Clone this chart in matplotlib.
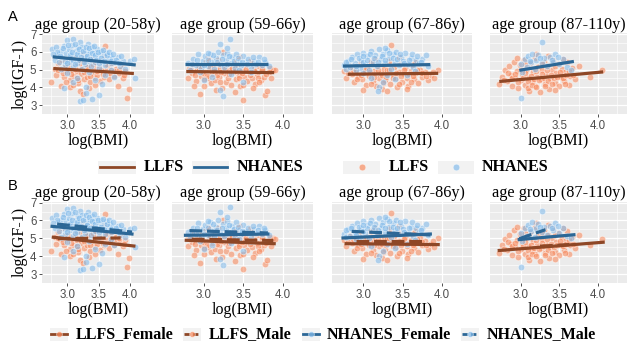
import matplotlib
matplotlib.use("Agg")
import matplotlib.pyplot as plt
from matplotlib.patches import Rectangle
from matplotlib.lines import Line2D

# ---------------- data ----------------
groups = ["age group (20-58y)", "age group (59-66y)", "age group (67-86y)", "age group (87-110y)"]
x_ticks = [3.0, 3.5, 4.0]
y_ticks = [3, 4, 5, 6, 7]

p1_nhanes = [(2.76,6.15),(2.80,5.55),(2.82,6.30),(2.85,5.90),(2.87,5.40),(2.90,6.05),(2.92,5.70),(2.95,6.35),(2.96,5.25),(2.98,5.95),(3.00,6.65),(3.01,5.60),(3.03,6.15),(3.05,5.45),(3.06,5.85),(3.08,6.40),(3.10,5.15),(3.10,6.70),(3.12,5.75),(3.14,6.05),(3.15,5.35),(3.17,6.25),(3.18,5.55),(3.20,6.55),(3.21,5.95),(3.23,5.05),(3.24,6.30),(3.26,5.65),(3.28,6.10),(3.29,5.30),(3.31,5.85),(3.33,6.45),(3.34,5.50),(3.36,6.00),(3.38,5.20),(3.40,6.25),(3.41,5.70),(3.43,5.95),(3.45,5.40),(3.47,6.15),(3.48,5.60),(3.50,5.10),(3.52,5.85),(3.54,6.05),(3.55,5.45),(3.58,5.75),(3.60,5.25),(3.62,5.95),(3.65,5.55),(3.68,5.80),(3.70,5.35),(3.72,5.65),(3.76,5.45),(3.80,5.70),(3.84,5.20),(3.88,5.50),(3.92,5.05),(4.00,5.50),(4.06,5.60),(4.08,4.50),(3.20,3.25),(3.25,3.30),(3.40,3.35),(3.50,3.55),(3.30,3.70),(2.95,3.95),(3.30,4.00),(3.10,4.30),(3.45,4.40),(3.60,4.70),(3.00,4.80),(3.15,4.55),(2.90,5.05),(3.35,4.85),(3.70,4.95),(3.55,4.20),(3.75,4.60),
             (2.84,6.00),(2.88,5.75),(2.93,6.20),(2.97,5.50),(3.02,6.40),(3.04,5.80),(3.07,6.00),(3.09,5.55),(3.13,6.45),(3.16,5.90),(3.19,6.15),(3.22,5.70),(3.25,6.05),(3.27,5.45),(3.30,6.30),(3.32,5.75),(3.35,6.20),(3.37,5.60),(3.39,5.95),(3.42,6.35),(3.44,5.80),(3.46,5.55),(3.49,6.00),(3.51,5.35),(3.53,5.65),(3.57,6.10),(3.59,5.50),(3.63,5.80),(3.66,6.00),(3.69,5.50),(3.73,5.90),(3.78,5.55),(3.82,5.35),(3.86,5.75),(2.78,5.85),(3.00,5.35),(3.12,5.30)]
p1_llfs = [(2.75,4.30),(2.80,5.05),(2.83,4.70),(2.86,5.35),(2.88,4.95),(2.90,4.10),(2.92,5.55),(2.95,4.60),(2.97,5.15),(3.00,4.85),(3.02,5.45),(3.04,4.00),(3.05,4.40),(3.07,5.00),(3.09,5.70),(3.11,4.65),(3.13,5.25),(3.15,4.90),(3.17,4.25),(3.19,5.55),(3.20,3.80),(3.22,4.75),(3.24,5.10),(3.25,3.60),(3.26,4.45),(3.28,5.35),(3.30,4.95),(3.32,4.60),(3.34,5.20),(3.36,4.30),(3.38,5.65),(3.40,4.80),(3.42,5.05),(3.44,4.50),(3.46,5.40),(3.48,4.70),(3.50,5.15),(3.52,4.35),(3.54,4.90),(3.56,5.50),(3.58,4.60),(3.60,6.35),(3.61,5.00),(3.63,4.75),(3.65,5.25),(3.67,4.45),(3.70,4.95),(3.72,5.35),(3.74,4.65),(3.77,5.05),(3.80,4.10),(3.82,4.80),(3.85,5.20),(3.88,4.55),(3.92,4.90),(3.95,3.40),(3.98,3.90),(3.10,4.15),(3.35,3.95),(2.98,4.30),(3.45,4.15),(3.58,5.80),(3.25,5.85),(3.00,5.60),
           (2.85,5.00),(2.94,4.80),(3.01,5.20),(3.06,4.75),(3.12,5.05),(3.16,4.55),(3.21,5.35),(3.27,4.85),(3.31,5.15),(3.37,4.65),(3.41,5.30),(3.47,4.90),(3.53,5.00),(3.57,4.75),(3.62,5.30),(3.68,4.80),(3.75,4.90),(3.83,5.00),(3.90,4.70),(3.18,4.40)]
p2_nhanes = [(2.80,5.35),(2.83,5.00),(2.86,5.60),(2.90,5.25),(2.93,5.85),(2.96,5.10),(2.99,5.50),(3.02,5.75),(3.05,5.20),(3.08,5.90),(3.10,5.40),(3.13,5.05),(3.15,5.65),(3.18,6.00),(3.20,6.45),(3.21,5.30),(3.24,5.80),(3.26,5.15),(3.28,5.55),(3.30,5.95),(3.33,6.75),(3.34,5.35),(3.36,5.70),(3.39,5.10),(3.41,5.90),(3.44,5.45),(3.47,5.25),(3.50,5.75),(3.53,5.40),(3.56,5.60),(3.60,5.15),(3.63,5.50),(3.66,5.30),(3.70,5.70),(3.74,5.25),(3.78,5.45),(3.82,5.20),(3.20,3.85),(3.25,3.50),(3.50,4.30),(3.10,4.60),(3.35,4.75),(2.95,4.85),(3.60,4.85),(3.00,4.40),(3.45,4.95),
             (2.85,5.30),(2.92,5.55),(3.00,5.25),(3.06,5.55),(3.12,5.80),(3.17,5.45),(3.23,5.60),(3.29,5.30),(3.32,5.75),(3.38,5.50),(3.43,5.65),(3.48,5.40),(3.55,5.30),(3.62,5.70),(3.68,5.45),(3.76,5.60),(3.30,6.20),(3.05,5.95)]
p2_llfs = [(2.80,4.55),(2.82,5.05),(2.85,4.80),(2.87,5.30),(2.90,4.35),(2.92,4.95),(2.95,3.60),(2.96,4.65),(2.98,5.20),(3.00,4.10),(3.01,4.85),(3.03,5.45),(3.05,4.50),(3.07,5.00),(3.09,4.25),(3.10,4.75),(3.12,5.25),(3.14,4.40),(3.16,4.95),(3.18,5.55),(3.19,4.60),(3.21,5.10),(3.23,3.95),(3.25,6.00),(3.26,4.80),(3.28,4.30),(3.30,5.30),(3.31,4.55),(3.33,5.00),(3.35,4.15),(3.37,4.85),(3.39,5.40),(3.41,4.45),(3.42,5.15),(3.44,4.70),(3.46,4.05),(3.48,5.00),(3.50,3.30),(3.51,4.60),(3.53,5.25),(3.55,4.35),(3.57,4.90),(3.59,5.50),(3.61,4.50),(3.63,5.05),(3.65,4.20),(3.67,4.75),(3.70,5.20),(3.72,4.40),(3.74,4.95),(3.76,4.60),(3.78,3.55),(3.80,3.80),(3.82,4.85),(3.85,4.55),(3.88,5.00),(3.90,4.95),(2.88,4.05),(3.15,3.85),(3.40,3.75),(3.62,3.95),(3.05,5.65),(3.45,5.70),
           (2.84,4.95),(2.89,4.70),(2.94,5.10),(2.99,4.80),(3.04,4.65),(3.08,5.15),(3.13,4.90),(3.17,4.70),(3.22,4.85),(3.27,5.05),(3.32,4.75),(3.36,5.10),(3.40,4.90),(3.45,4.55),(3.49,4.80),(3.54,5.05),(3.58,4.70),(3.64,4.90),(3.69,4.55),(3.73,5.05),(3.79,4.75),(3.84,5.10),(3.20,4.30),(3.50,4.15),(3.00,4.45),(3.70,4.30)]
p3_nhanes = [(2.75,5.25),(2.78,5.05),(2.80,5.50),(2.83,5.15),(2.86,5.70),(2.89,5.35),(2.92,5.85),(2.95,5.10),(2.97,5.55),(3.00,5.95),(3.02,5.30),(3.05,5.75),(3.07,5.00),(3.10,6.05),(3.12,5.45),(3.15,5.80),(3.17,5.20),(3.20,6.15),(3.22,5.60),(3.25,5.90),(3.27,5.35),(3.30,6.10),(3.32,5.65),(3.35,5.05),(3.37,5.85),(3.40,5.45),(3.42,6.00),(3.45,5.25),(3.48,5.70),(3.50,5.50),(3.53,5.95),(3.56,5.30),(3.60,5.65),(3.63,5.15),(3.67,5.55),(3.70,5.35),(3.75,5.60),(3.80,5.80),(3.82,5.20),(3.20,4.00),(3.18,3.80),(3.25,4.30),(3.10,4.55),(3.40,4.45),(3.55,4.70),(3.00,4.80),(3.30,4.70),(3.65,4.90),(2.90,4.95),
             (2.78,5.45),(2.84,5.60),(2.90,5.20),(2.94,5.65),(2.99,5.40),(3.04,5.55),(3.08,5.85),(3.13,5.65),(3.18,5.45),(3.23,5.75),(3.28,5.55),(3.33,5.95),(3.38,5.65),(3.43,5.60),(3.47,5.90),(3.52,5.35),(3.58,5.55),(3.62,5.90),(3.68,5.75),(3.73,5.45),(3.27,6.20),(3.00,5.75)]
p3_llfs = [(2.75,4.90),(2.78,4.55),(2.82,5.15),(2.85,4.75),(2.88,4.30),(2.90,5.00),(2.93,4.60),(2.95,5.35),(2.98,4.45),(3.00,4.85),(3.03,4.15),(3.05,5.10),(3.07,4.65),(3.10,5.40),(3.12,4.35),(3.14,4.90),(3.16,4.05),(3.18,5.20),(3.20,4.55),(3.22,4.80),(3.24,3.90),(3.26,5.05),(3.28,4.40),(3.30,4.95),(3.32,5.50),(3.34,4.20),(3.35,6.40),(3.37,4.70),(3.39,5.15),(3.41,4.50),(3.43,4.00),(3.45,4.85),(3.47,5.30),(3.49,4.30),(3.51,4.75),(3.53,5.10),(3.55,4.55),(3.57,4.10),(3.60,4.90),(3.62,5.25),(3.64,4.45),(3.66,4.80),(3.69,4.25),(3.72,5.00),(3.75,4.60),(3.78,4.85),(3.82,4.40),(3.86,4.70),(3.90,4.50),(3.95,5.00),(3.00,3.85),(3.30,3.80),(3.55,3.90),(3.15,5.60),(3.45,5.70),(3.65,5.45),
           (2.80,4.80),(2.87,4.95),(2.92,4.45),(2.97,4.70),(3.02,5.00),(3.08,4.85),(3.13,4.60),(3.19,4.95),(3.23,4.70),(3.29,4.60),(3.33,4.95),(3.38,4.55),(3.42,4.80),(3.48,4.65),(3.52,4.95),(3.58,4.75),(3.63,4.65),(3.68,4.95),(3.74,4.80),(3.80,4.65),(3.88,4.85),(3.25,4.25),(3.45,4.20),(3.10,4.20),(3.60,4.30)]
p4_nhanes = [(3.00,5.30),(3.02,4.85),(3.05,5.60),(3.08,5.15),(3.10,5.75),(3.13,5.40),(3.15,5.90),(3.18,5.05),(3.20,5.55),(3.23,5.80),(3.27,6.55),(3.28,5.35),(3.30,5.65),(3.34,5.20),(3.38,5.70),(3.42,5.45),(3.45,5.85),(3.50,5.30),(3.55,5.60),(3.60,5.15),(3.65,5.00),(3.00,3.40),
             (3.12,5.50),(3.25,5.65),(3.40,5.55),(3.48,5.70)]
p4_llfs = [(2.72,4.20),(2.76,4.60),(2.80,4.95),(2.82,4.35),(2.85,5.20),(2.87,4.70),(2.89,4.05),(2.91,5.45),(2.93,4.50),(2.95,4.90),(2.97,3.95),(2.99,5.25),(3.00,4.40),(3.02,4.75),(3.04,5.55),(3.05,4.15),(3.07,5.00),(3.09,4.55),(3.11,3.80),(3.12,5.35),(3.14,4.30),(3.16,4.85),(3.18,5.65),(3.19,4.10),(3.21,4.60),(3.23,5.15),(3.25,3.75),(3.26,4.45),(3.28,4.95),(3.30,5.45),(3.31,4.20),(3.33,4.70),(3.35,5.20),(3.37,3.90),(3.38,4.50),(3.40,5.00),(3.42,5.55),(3.44,4.25),(3.46,4.80),(3.48,5.30),(3.50,4.05),(3.52,4.60),(3.54,5.05),(3.56,4.35),(3.58,4.85),(3.60,5.40),(3.62,4.15),(3.64,4.65),(3.66,5.10),(3.70,4.45),(3.75,5.20),(3.90,4.60),(4.05,4.95),(3.20,5.85),(3.35,5.75),(2.95,5.65),(3.10,3.95),(3.45,3.85),(3.55,5.60),
           (2.78,4.40),(2.84,4.80),(2.88,4.55),(2.92,4.75),(2.96,4.30),(3.01,4.95),(3.03,4.55),(3.06,4.80),(3.10,4.35),(3.13,4.65),(3.17,4.45),(3.20,4.90),(3.24,4.40),(3.27,4.75),(3.30,4.55),(3.34,4.95),(3.36,4.35),(3.39,4.70),(3.43,4.50),(3.47,4.60),(3.51,4.85),(3.55,4.55),(3.59,4.70),(3.63,4.90),(3.68,4.70),(3.15,4.15),(3.32,4.05),(3.05,5.30),(3.28,5.30),(3.45,5.20),(3.20,4.00),(3.40,4.20),(3.57,4.20)]

nhanes_pts = [p1_nhanes, p2_nhanes, p3_nhanes, p4_nhanes]
llfs_pts = [p1_llfs, p2_llfs, p3_llfs, p4_llfs]

# regression fits: ((x0, x1), (y0, y1)) per panel
fit_llfs = [((2.78, 4.06), (5.06, 4.78)), ((2.78, 3.89), (4.89, 4.83)),
            ((2.80, 3.95), (4.74, 4.79)), ((2.72, 4.07), (4.33, 4.87))]
fit_nhanes = [((2.77, 4.09), (5.72, 5.26)), ((2.77, 3.81), (5.31, 5.31)),
              ((2.74, 3.85), (5.20, 5.28)), ((2.98, 3.69), (4.96, 5.46))]
fit_llfs_f = [((2.78, 4.06), (5.06, 4.57)), ((2.78, 3.89), (4.89, 4.70)),
              ((2.78, 3.95), (4.70, 4.65)), ((2.72, 4.07), (4.32, 4.78))]
fit_llfs_m = [((2.85, 3.85), (4.98, 5.02)), ((2.85, 3.88), (4.95, 4.88)),
              ((2.90, 3.75), (4.83, 4.83)), ((3.25, 3.63), (4.56, 4.65))]
fit_nhanes_f = [((2.76, 4.03), (5.67, 5.24)), ((2.77, 3.81), (5.17, 5.24)),
                ((2.74, 3.85), (5.02, 5.24)), ((2.98, 3.69), (4.93, 5.20))]
fit_nhanes_m = [((2.84, 4.03), (5.80, 5.35)), ((2.82, 3.81), (5.43, 5.30)),
                ((2.85, 3.85), (5.39, 5.19)), ((2.98, 3.32), (4.98, 5.48))]

# ---------------- style ----------------
W, H = 628, 344
COL_LLFS_PT = "#F88D61"
COL_NH_PT = "#86BDEB"
COL_LLFS_LN = "#8E4726"
COL_NH_LN = "#2C6796"
SERIF = ["Liberation Serif", "DejaVu Serif"]
SANS = ["Liberation Sans", "DejaVu Sans"]

fig = plt.figure(figsize=(W / 100, H / 100), dpi=100)
fig.patch.set_facecolor("white")

def fx(px):
    return px / W

def fy(py):
    return 1 - py / H

panel_x = [(42, 154), (172, 313), (332, 472), (490, 627)]
rows = [(33, 114), (201.5, 283)]

def make_ax(x0, x1, y0, y1, first):
    ax = fig.add_axes([fx(x0), fy(y1), fx(x1) - fx(x0), (y1 - y0) / H])
    ax.set_facecolor("#EBEBEB")
    ax.set_xlim(2.60, 4.38)
    ax.set_ylim(2.56, 7.06)
    ax.set_xticks(x_ticks)
    ax.set_xticks([2.75, 3.25, 3.75, 4.25], minor=True)
    ax.set_yticks(y_ticks)
    ax.set_yticks([2.5, 3.5, 4.5, 5.5, 6.5], minor=True)
    ax.grid(True, which="major", color="white", lw=0.9)
    ax.grid(True, which="minor", color="white", lw=0.45)
    ax.set_axisbelow(True)
    for s in ax.spines.values():
        s.set_visible(False)
    ax.tick_params(which="minor", length=0)
    ax.tick_params(which="major", color="#333333", length=2.5, width=0.6,
                   labelcolor="#4D4D4D", labelsize=8.3, pad=1.5)
    ax.set_xticklabels(["3.0", "3.5", "4.0"], family=SANS)
    if first:
        ax.set_yticklabels([str(v) for v in y_ticks], family=SANS)
        ax.set_ylabel("log(IGF-1)", family=SERIF, fontsize=11.5, labelpad=2)
    else:
        ax.tick_params(axis="y", which="major", length=0, labelleft=False)
    ax.set_xlabel("log(BMI)", family=SERIF, fontsize=11.5, labelpad=1)
    return ax

def draw_points(ax, i):
    for pts, col in ((llfs_pts[i], COL_LLFS_PT), (nhanes_pts[i], COL_NH_PT)):
        xs = [p[0] for p in pts]
        ys = [p[1] for p in pts]
        ax.scatter(xs, ys, s=22, color=col, alpha=0.6, edgecolors="white",
                   linewidths=0.5, zorder=2)

for r, (y0, y1) in enumerate(rows):
    for i, (x0, x1) in enumerate(panel_x):
        ax = make_ax(x0, x1, y0, y1, i == 0)
        draw_points(ax, i)
        ax.set_title(groups[i], family=SERIF, fontsize=11.7, pad=3)
        if r == 0:
            for fit, col in ((fit_llfs[i], COL_LLFS_LN), (fit_nhanes[i], COL_NH_LN)):
                ax.plot(fit[0], fit[1], color=col, lw=2.3, solid_capstyle="butt", zorder=3)
        else:
            ax.plot(fit_llfs_f[i][0], fit_llfs_f[i][1], color=COL_LLFS_LN, lw=2.3, zorder=3)
            ax.plot(fit_llfs_m[i][0], fit_llfs_m[i][1], color=COL_LLFS_LN, lw=2.3,
                    ls=(0, (4, 1.5)), zorder=3)
            ax.plot(fit_nhanes_f[i][0], fit_nhanes_f[i][1], color=COL_NH_LN, lw=2.3, zorder=3)
            ax.plot(fit_nhanes_m[i][0], fit_nhanes_m[i][1], color=COL_NH_LN, lw=2.3,
                    ls=(0, (4, 1.5)), zorder=3)

# panel tags
fig.text(fx(8), fy(17), "A", family=SANS, fontsize=10.5, va="center", ha="left")
fig.text(fx(8), fy(186), "B", family=SANS, fontsize=10.5, va="center", ha="left")

# ---------------- legends (manual) ----------------
def key_box(x0, x1, yc, h=13):
    fig.patches.append(Rectangle((fx(x0), fy(yc + h / 2)), fx(x1) - fx(x0), h / H,
                                 transform=fig.transFigure, facecolor="#F2F2F2",
                                 edgecolor="none", zorder=1))

def key_line(x0, x1, yc, col, ls="-", lw=2.0):
    fig.lines.append(Line2D([fx(x0), fx(x1)], [fy(yc), fy(yc)], transform=fig.transFigure,
                            color=col, lw=lw, ls=ls, zorder=2))

def key_point(xc, yc, col, ms=4.8):
    fig.lines.append(Line2D([fx(xc)], [fy(yc)], transform=fig.transFigure, marker="o",
                            ms=ms, color=col, alpha=0.7, markeredgecolor="white",
                            markeredgewidth=0.4, ls="none", zorder=3))

def key_text(x, yc, s):
    fig.text(fx(x), fy(yc), s, family=SERIF, fontweight="bold", fontsize=11.5,
             va="center", ha="left")

yl = 167
key_box(98, 136, yl); key_line(100, 134, yl, COL_LLFS_LN); key_text(144, yl, "LLFS")
key_box(192, 229, yl); key_line(194, 227, yl, COL_NH_LN); key_text(237, yl, "NHANES")
key_box(343, 380, yl); key_point(361.5, yl, COL_LLFS_PT); key_text(389, yl, "LLFS")
key_box(438, 474, yl); key_point(456, yl, COL_NH_PT); key_text(482, yl, "NHANES")

yl2 = 334
items = [(50, 68, COL_LLFS_LN, COL_LLFS_PT, "-", "LLFS_Female", 76),
         (183, 201, COL_LLFS_LN, COL_LLFS_PT, (0, (2, 1)), "LLFS_Male", 209),
         (302, 320, COL_NH_LN, COL_NH_PT, "-", "NHANES_Female", 327),
         (461, 479, COL_NH_LN, COL_NH_PT, (0, (2, 1)), "NHANES_Male", 487)]
for x0, x1, lc, pc, ls, lab, tx in items:
    key_box(x0, x1, yl2)
    key_line(x0 + 1, x1 - 1, yl2, lc, ls=ls, lw=2.0)
    key_point((x0 + x1) / 2, yl2, pc, ms=4.2)
    key_text(tx, yl2, lab)

fig.savefig("out.png", dpi=100)
